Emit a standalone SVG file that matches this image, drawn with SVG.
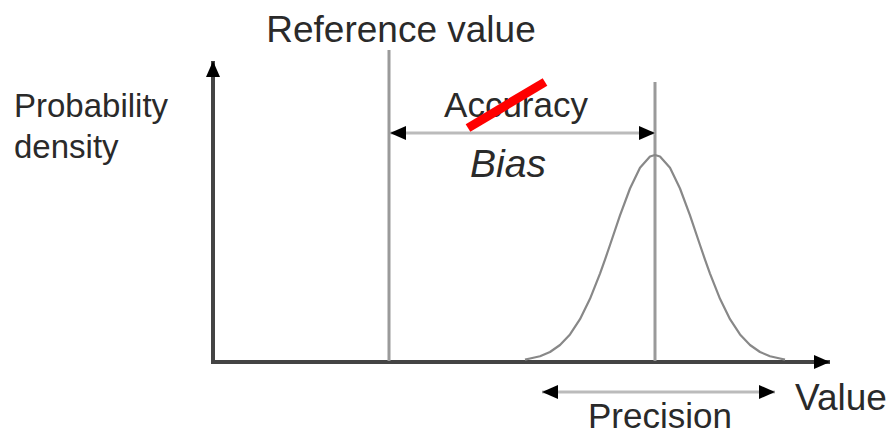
<svg xmlns="http://www.w3.org/2000/svg" width="891" height="436" viewBox="0 0 891 436">
  <style>
    text { font-family: "Liberation Sans", Arial, sans-serif; fill: #2a2a2a; }
    .axis { stroke: #444; stroke-width: 4; fill: none; }
    .vline { stroke: #9a9a9a; stroke-width: 3; fill: none; }
    .dim { stroke: #bbb; stroke-width: 3; fill: none; }
    .curve { stroke: #888; stroke-width: 2.2; fill: none; stroke-linejoin: round; }
  </style>
  <defs>
    <marker id="ah" viewBox="0 0 16 14" refX="16" refY="7" markerWidth="16" markerHeight="14" markerUnits="userSpaceOnUse" orient="auto-start-reverse">
      <path d="M0,0 L16,7 L0,14 Z" fill="#000"/>
    </marker>
    <marker id="ax" viewBox="0 0 16 14" refX="16" refY="7" markerWidth="16" markerHeight="14" markerUnits="userSpaceOnUse" orient="auto">
      <path d="M0,0 L16,7 L0,14 Z" fill="#000"/>
    </marker>
  </defs>

  <g id="connectors">
    <line id="y-axis" class="axis" x1="213" y1="362" x2="213" y2="61" marker-end="url(#ax)"/>
    <line id="x-axis" class="axis" x1="211" y1="362" x2="830" y2="362" marker-end="url(#ax)"/>
    <line id="reference-line" class="vline" x1="389" y1="50" x2="389" y2="361"/>
    <line id="mean-line" class="vline" x1="655" y1="82" x2="655" y2="361"/>
    <line id="bias-arrow" class="dim" x1="390" y1="133" x2="655" y2="133" marker-start="url(#ah)" marker-end="url(#ah)"/>
    <line id="precision-arrow" class="dim" x1="542" y1="392" x2="775" y2="392" marker-start="url(#ah)" marker-end="url(#ah)"/>
  </g>

  <g id="distribution">
    <polyline class="curve" points="525,359.6 530,358.5 540,356.2 550,352 560,345 570,334.4 580,319.2 590,298.8 600,273.6 605,259.6 610,245 620,215.4 630,188.5 640,167.7 650,156.5 655,155 660,156.5 670,167.7 680,188.5 690,215.4 700,245 705,259.6 710,273.6 720,298.8 730,319.2 740,334.4 750,345 760,352 770,356.2 780,358.5 785,359.6"/>
  </g>

  <g id="label-reference">
    <text x="401" y="42" font-size="37" text-anchor="middle">Reference value</text>
  </g>
  <g id="label-y">
    <text x="14" y="117" font-size="33">Probability</text>
    <text x="14" y="158" font-size="33">density</text>
  </g>
  <g id="label-accuracy">
    <text x="516" y="117" font-size="35" text-anchor="middle">Accuracy</text>
    <line x1="468" y1="128" x2="545" y2="82" stroke="#ff0000" stroke-width="9"/>
  </g>
  <g id="label-bias">
    <text x="508" y="177" font-size="39" font-style="italic" text-anchor="middle">Bias</text>
  </g>
  <g id="label-value">
    <text x="795" y="410" font-size="37">Value</text>
  </g>
  <g id="label-precision">
    <text x="660" y="428" font-size="35" text-anchor="middle">Precision</text>
  </g>
</svg>
